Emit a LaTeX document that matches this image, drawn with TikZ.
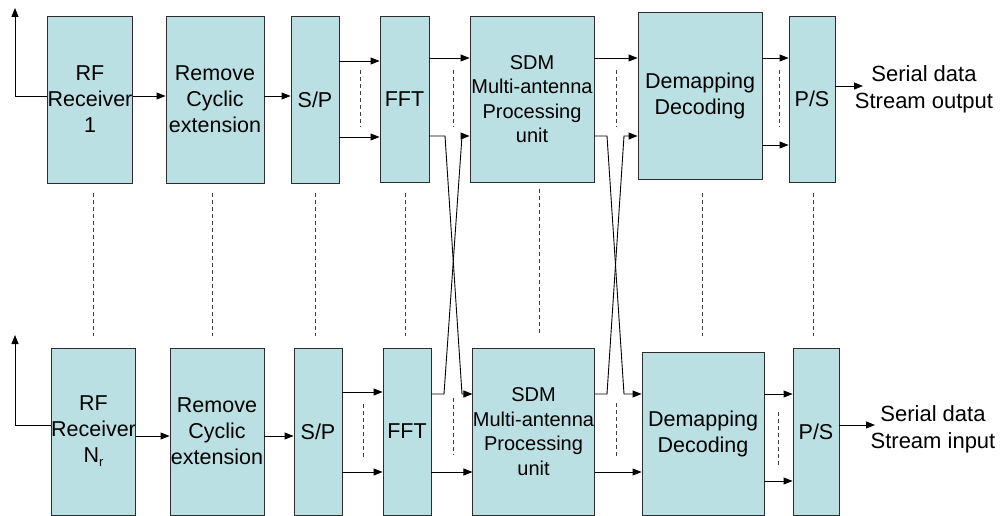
\documentclass[tikz,border=0pt]{standalone}
\usepackage{fontspec}
\setmainfont{Liberation Sans}
\usetikzlibrary{arrows.meta}
\definecolor{blockfill}{RGB}{187,224,227}
\definecolor{blockline}{RGB}{45,45,45}
\begin{document}
\begin{tikzpicture}[x=1pt,y=-1pt,
  blk/.style={draw=blockline, fill=blockfill, line width=0.9pt, inner sep=0pt,
    align=center, font=\fontsize{21.5}{26}\selectfont},
  sdmtext/.style={font=\fontsize{20}{24.5}\selectfont},
  arr/.style={-{Triangle[length=9pt,width=7pt]}, line width=0.9pt},
  ln/.style={line width=0.9pt},
  dots/.style={dash pattern=on 4pt off 3pt, line width=0.7pt, draw=black!75},
  lbl/.style={align=center, inner sep=0pt, font=\fontsize{22}{27}\selectfont}]
\useasboundingbox (0,0) rectangle (1002,516);

% ---- upper receive chain ----
\node[blk, minimum width=82pt,  minimum height=167pt] (rf1)  at (90,99.5)  {RF\\Receiver\\1};
\node[blk, minimum width=98pt,  minimum height=167pt] (rm1)  at (215,99.5) {Remove\\Cyclic\\extension};
\node[blk, minimum width=48pt,  minimum height=167pt] (sp1)  at (315,99.5) {S/P};
\node[blk, minimum width=49pt,  minimum height=166pt] (fft1) at (404.5,99) {FFT};
\node[blk, sdmtext, minimum width=124pt, minimum height=166pt] (sdm1) at (532,99) {SDM\\Multi-antenna\\Processing\\unit};
\node[blk, minimum width=124pt, minimum height=167pt] (dm1)  at (700,95.5) {Demapping\\Decoding};
\node[blk, minimum width=46pt,  minimum height=166pt] (ps1)  at (812,99)   {P/S};
\node[lbl] (out1) at (924,89.5) {Serial data\\Stream output};

% ---- lower receive chain ----
\node[blk, minimum width=83pt,  minimum height=167pt] (rf2)  at (93.5,431.5) {RF\\Receiver\\N\raisebox{-0.35ex}{\fontsize{13}{13}\selectfont r}};
\node[blk, minimum width=94pt,  minimum height=167pt] (rm2)  at (217,431.5)  {Remove\\Cyclic\\extension};
\node[blk, minimum width=48pt,  minimum height=167pt] (sp2)  at (318,431.5)  {S/P};
\node[blk, minimum width=48pt,  minimum height=167pt] (fft2) at (407,431.5)  {FFT};
\node[blk, sdmtext, minimum width=121pt, minimum height=167pt] (sdm2) at (533.5,431.5) {SDM\\Multi-antenna\\Processing\\unit};
\node[blk, minimum width=122pt, minimum height=163pt] (dm2)  at (703,433.5)  {Demapping\\Decoding};
\node[blk, minimum width=46pt,  minimum height=167pt] (ps2)  at (816,431.5)  {P/S};
\node[lbl] (out2) at (933,429) {Serial data\\Stream input};

% signal levels
\coordinate (a1) at (15,96);   \coordinate (t1) at (15,8);
\coordinate (a2) at (15,425);  \coordinate (t2) at (15,335);
\coordinate (u58) at (0,58);   \coordinate (u61) at (0,61);
\coordinate (u86) at (0,86);   \coordinate (u136) at (0,136);
\coordinate (u137) at (0,137); \coordinate (u145) at (0,145);
\coordinate (l392) at (0,392); \coordinate (l394) at (0,394);
\coordinate (l425) at (0,425); \coordinate (l436) at (0,436);
\coordinate (l472) at (0,472); \coordinate (l481) at (0,481);

% antennas
\draw[arr] (a1) -- (t1);
\draw[ln] (a1) -- (rf1.west |- a1);
\draw[arr] (rf1.east |- a1) -- (rm1.west |- a1);
\draw[arr] (a2) -- (t2);
\draw[ln] (a2) -- (rf2.west |- a2);
\draw[arr] (rf2.east |- l436) -- (rm2.west |- l436);

% upper chain links
\draw[arr] (rm1.east |- a1) -- (sp1.west |- a1);
\draw[arr] (sp1.east |- u61) -- (fft1.west |- u61);
\draw[arr] (sp1.east |- u137) -- (fft1.west |- u137);
\draw[arr] (fft1.east |- u58) -- (sdm1.west |- u58);
\draw[arr] (sdm1.east |- u58) -- (dm1.west |- u58);
\draw[arr] (dm1.east |- u58) -- (ps1.west |- u58);
\draw[arr] (dm1.east |- u145) -- (ps1.west |- u145);
\draw[arr] (ps1.east |- u86) -- (863,86);

% lower chain links
\draw[arr] (rm2.east |- l436) -- (sp2.west |- l436);
\draw[arr] (sp2.east |- l392) -- (fft2.west |- l392);
\draw[arr] (sp2.east |- l472) -- (fft2.west |- l472);
\draw[arr] (fft2.east |- l472) -- (sdm2.west |- l472);
\draw[arr] (sdm2.east |- l472) -- (dm2.west |- l472);
\draw[arr] (dm2.east |- l394) -- (ps2.west |- l394);
\draw[arr] (dm2.east |- l481) -- (ps2.west |- l481);
\draw[arr] (ps2.east |- l425) -- (875,425);

% crossed links between the chains
\draw[arr] (fft1.east |- u136) -- (445,136) -- (462,394) -- (sdm2.west |- l394);
\draw[arr] (fft2.east |- l394) -- (444,394) -- (462,136) -- (sdm1.west |- u136);
\draw[arr] (sdm1.east |- u136) -- (607,136) -- (624,394) -- (dm2.west |- l394);
\draw[arr] (sdm2.east |- l394) -- (607,394) -- (624,136) -- (dm1.west |- u136);

% parallel-branch ellipses
\draw[dots] (360,70) -- (360,127);
\draw[dots] (453,70) -- (453,127);
\draw[dots] (616,70) -- (616,127);
\draw[dots] (779,70) -- (779,127);
\draw[dots] (363,404) -- (363,459);
\draw[dots] (453,398) -- (453,455);
\draw[dots] (616,403) -- (616,457);
\draw[dots] (778,412) -- (778,466);

% receive-chain ellipses
\foreach \x in {93,212,315,405,702,813}
  \draw[dots] (\x,193) -- (\x,336);
\draw[dots] (539,189) -- (539,334);
\end{tikzpicture}
\end{document}
